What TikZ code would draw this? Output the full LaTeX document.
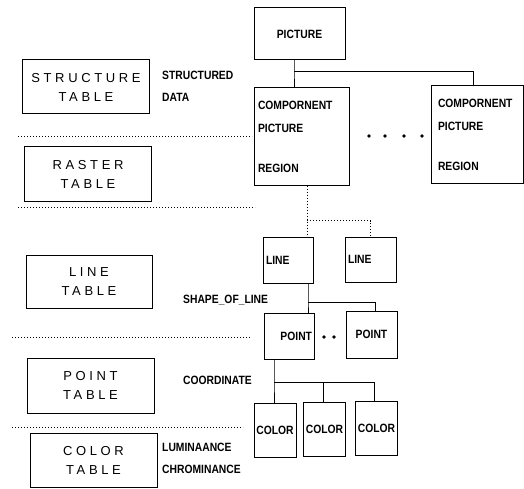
\documentclass[tikz,border=0pt]{standalone}
\usepackage{fontspec}
\setmainfont{Liberation Sans}
\newfontfamily\spacedfont[LetterSpace=28]{Liberation Sans}
\newfontfamily\narrowfont[FakeStretch=0.86]{Liberation Sans}
\usetikzlibrary{positioning}

\begin{document}
\begin{tikzpicture}[
  x=1pt, y=-1pt,
  tbl/.style={draw,line width=1pt,align=center,minimum width=127pt,minimum height=54pt,inner sep=0pt,font=\fontsize{13}{19}\spacedfont},
  box/.style={draw,line width=1pt,inner sep=1pt,font=\fontsize{12}{13}\narrowfont\bfseries},
  lbl/.style={inner sep=0pt,align=left,font=\fontsize{12}{22}\narrowfont\bfseries},
  link/.style={line width=1pt},
  dotlink/.style={line width=1pt,dash pattern=on 1.2pt off 1.8pt},
  sep/.style={line width=1pt,dash pattern=on 1.2pt off 1.8pt}
]
\useasboundingbox (0,0) rectangle (524,489);
% tables on the left
\node[tbl] (structure) at (86,87) {STRUCTURE\\TABLE};
\node[tbl] (raster) at (88,174) {RASTER\\TABLE};
\node[tbl,minimum width=126pt,minimum height=53pt] (linetbl) at (89,281.5) {LINE\\TABLE};
\node[tbl,minimum height=55pt] (pointtbl) at (90.5,385.5) {POINT\\TABLE};
\node[tbl] (colortbl) at (93.5,460) {COLOR\\TABLE};
% level separators
\foreach \y/\xa/\xb in {137/18/252,207/18/255,337/12/250,427/12/243}
  \draw[sep] (\xa,\y) -- (\xb,\y);
% picture tree
\node[box,minimum width=91pt,minimum height=52pt] (picture) at (299.5,34) {PICTURE};
\node[box,inner sep=4pt,text width=87pt,minimum height=97pt,align=left] (comp1) at (301.5,136.5)
  {COMPORNENT\\[10pt]PICTURE\\[27pt]REGION};
\node[box,inner xsep=7pt,inner ysep=4pt,text width=78pt,minimum height=97pt,align=left] (comp2) at (477,134.5)
  {COMPORNENT\\[10pt]PICTURE\\[27pt]REGION};
\node[box,inner xsep=3pt,text width=44pt,minimum height=46pt,align=left] (line1) at (288,260) {LINE};
\node[box,inner xsep=3pt,text width=45pt,minimum height=45pt,align=left] (line2) at (370.5,259.5) {LINE};
\node[box,inner xsep=2pt,text width=46pt,minimum height=46pt,align=right] (point1) at (289,336) {POINT};
\node[box,minimum width=51pt,minimum height=47pt] (point2) at (371.5,334.5) {POINT};
\node[box,minimum width=42pt,minimum height=54pt] (color1) at (275,430) {COLOR};
\node[box,minimum width=42pt,minimum height=54pt] (color2) at (324.5,429) {COLOR};
\node[box,minimum width=42pt,minimum height=54pt] (color3) at (376.5,428) {COLOR};
% labels
\node[lbl,anchor=west] (sdata) at (162,86) {STRUCTURED\\DATA};
\node[lbl,anchor=west] (shape) at (183,300) {SHAPE\_OF\_LINE};
\node[lbl,anchor=west] (coord) at (183,380) {COORDINATE};
\node[lbl,anchor=west] (lumi) at (162,458.5) {LUMINAANCE\\CHROMINANCE};
% junctions
\coordinate (pbus) at ([xshift=-5.5pt,yshift=-11pt]picture.south);
\coordinate (cbus) at ([xshift=5.5pt,yshift=-35pt]comp1.south);
\coordinate (lbus) at ([xshift=20pt,yshift=-19pt]line1.south);
\coordinate (kbus) at ([xshift=-15pt,yshift=-23pt]point1.south);
% connectors
\draw[link] ([xshift=-5.5pt]picture.south) -- (pbus) -- (pbus |- comp1.north);
\draw[link] (pbus) -| ([xshift=-4pt]comp2.north);
\draw[dotlink] ([xshift=5.5pt]comp1.south) -- (cbus) -- (cbus |- line1.north);
\draw[dotlink] (cbus) -| (line2.north);
\draw[link] ([xshift=20pt]line1.south) -- (lbus) -- (lbus |- point1.north);
\draw[link] (lbus) -| ([xshift=3.5pt]point2.north);
\draw[link] ([xshift=-15pt]point1.south) -- (kbus) -- (kbus |- color1.north);
\draw[link] (kbus) -| ([xshift=-2.5pt]color3.north);
\draw[link] ([xshift=-1.5pt]color2.north) -- ([xshift=-1.5pt]color2.north |- kbus);
% more of the same
\foreach \x in {369,385,404,422} \fill (\x,136) circle (1.8pt);
\foreach \x in {324,334} \fill (\x,337) circle (1.8pt);
\end{tikzpicture}
\end{document}
